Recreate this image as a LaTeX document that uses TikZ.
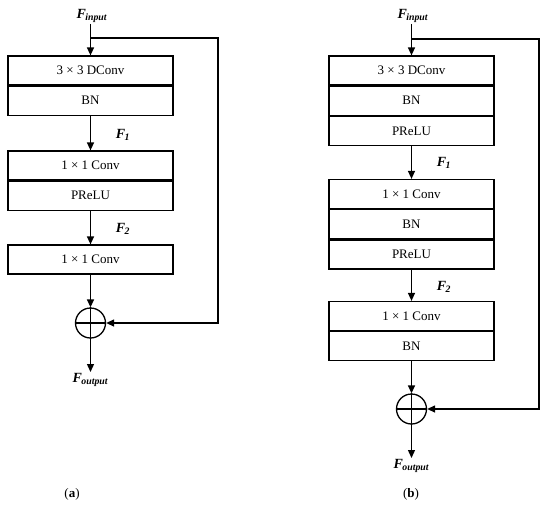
\documentclass[tikz,border=0pt]{standalone}
\usepackage{fontspec}
\setmainfont{Liberation Serif}
\usetikzlibrary{arrows.meta,positioning}
\tikzset{
  row/.style={draw, line width=1.2pt, minimum width=165pt, minimum height=29pt, inner sep=0pt, font=\fontsize{13}{15}\selectfont},
  lbl/.style={inner sep=1pt, font=\fontsize{14}{16}\selectfont},
  captxt/.style={inner sep=1pt, font=\fontsize{13}{15}\selectfont},
  arr/.style={line width=1.3pt, -{Triangle[length=8pt,width=7pt]}},
  ln/.style={line width=1.3pt},
  sumnode/.style={draw, circle, line width=1.3pt, minimum size=30pt, inner sep=0pt},
}
\newcommand{\Fv}[1]{\textbf{\textit{F}}\kern-0.5pt\textsubscript{\textbf{\textit{#1}}}}
\begin{document}
\begin{tikzpicture}[x=1pt,y=-1pt]
\useasboundingbox (0,0) rectangle (550,507);
% ---------- (a) ----------
\node[lbl] (ainp) at (92,16) {\Fv{input}};
\node[row] (a1) at (90.5,70.5) {3 × 3 DConv};
\node[row, below=0pt of a1] (a2) {BN};
\node[row] (a3) at (90.5,165.5) {1 × 1 Conv};
\node[row, below=0pt of a3] (a4) {PReLU};
\node[row] (a5) at (90.5,259.5) {1 × 1 Conv};
\node[sumnode] (asum) at (90.5,323) {};
\draw[ln] (asum.north) -- (asum.south) (asum.west) -- (asum.east);
\node[lbl, anchor=north] (aout) at (90.5,372) {\Fv{output}};
\node[lbl] (af1) at (123,135) {\Fv{1}};
\node[lbl] (af2) at (123,229) {\Fv{2}};
\coordinate (asplit) at (90.5,38);
\coordinate (acorner) at (218,38);
\draw[arr] (ainp.south -| a1.north) -- (a1.north);
\draw[arr] (a2.south) -- (a3.north);
\draw[arr] (a4.south) -- (a5.north);
\draw[arr] (a5.south) -- (asum.north);
\draw[arr] (asum.south) -- (aout.north);
\draw[arr] (asplit) -- (acorner) |- (asum.east);
\node[captxt] (alab) at (72,494) {(\textbf{a})};
% ---------- (b) ----------
\node[lbl] (binp) at (413,16) {\Fv{input}};
\node[row] (b1) at (411.5,70.5) {3 × 3 DConv};
\node[row, below=0pt of b1] (b2) {BN};
\node[row, below=0pt of b2] (b3) {PReLU};
\node[row] (b4) at (411.5,194) {1 × 1 Conv};
\node[row, below=0pt of b4] (b5) {BN};
\node[row, below=0pt of b5] (b6) {PReLU};
\node[row] (b7) at (411.5,316) {1 × 1 Conv};
\node[row, below=0pt of b7] (b8) {BN};
\node[sumnode] (bsum) at (411.5,409) {};
\draw[ln] (bsum.north) -- (bsum.south) (bsum.west) -- (bsum.east);
\node[lbl, anchor=north] (bout) at (411.5,458) {\Fv{output}};
\node[lbl] (bf1) at (444,163) {\Fv{1}};
\node[lbl] (bf2) at (444,287) {\Fv{2}};
\coordinate (bsplit) at (411.5,39);
\coordinate (bcorner) at (539,39);
\draw[arr] (binp.south -| b1.north) -- (b1.north);
\draw[arr] (b3.south) -- (b4.north);
\draw[arr] (b6.south) -- (b7.north);
\draw[arr] (b8.south) -- (bsum.north);
\draw[arr] (bsum.south) -- (bout.north);
\draw[arr] (bsplit) -- (bcorner) |- (bsum.east);
\node[captxt] (blab) at (411,494) {(\textbf{b})};
\end{tikzpicture}
\end{document}
